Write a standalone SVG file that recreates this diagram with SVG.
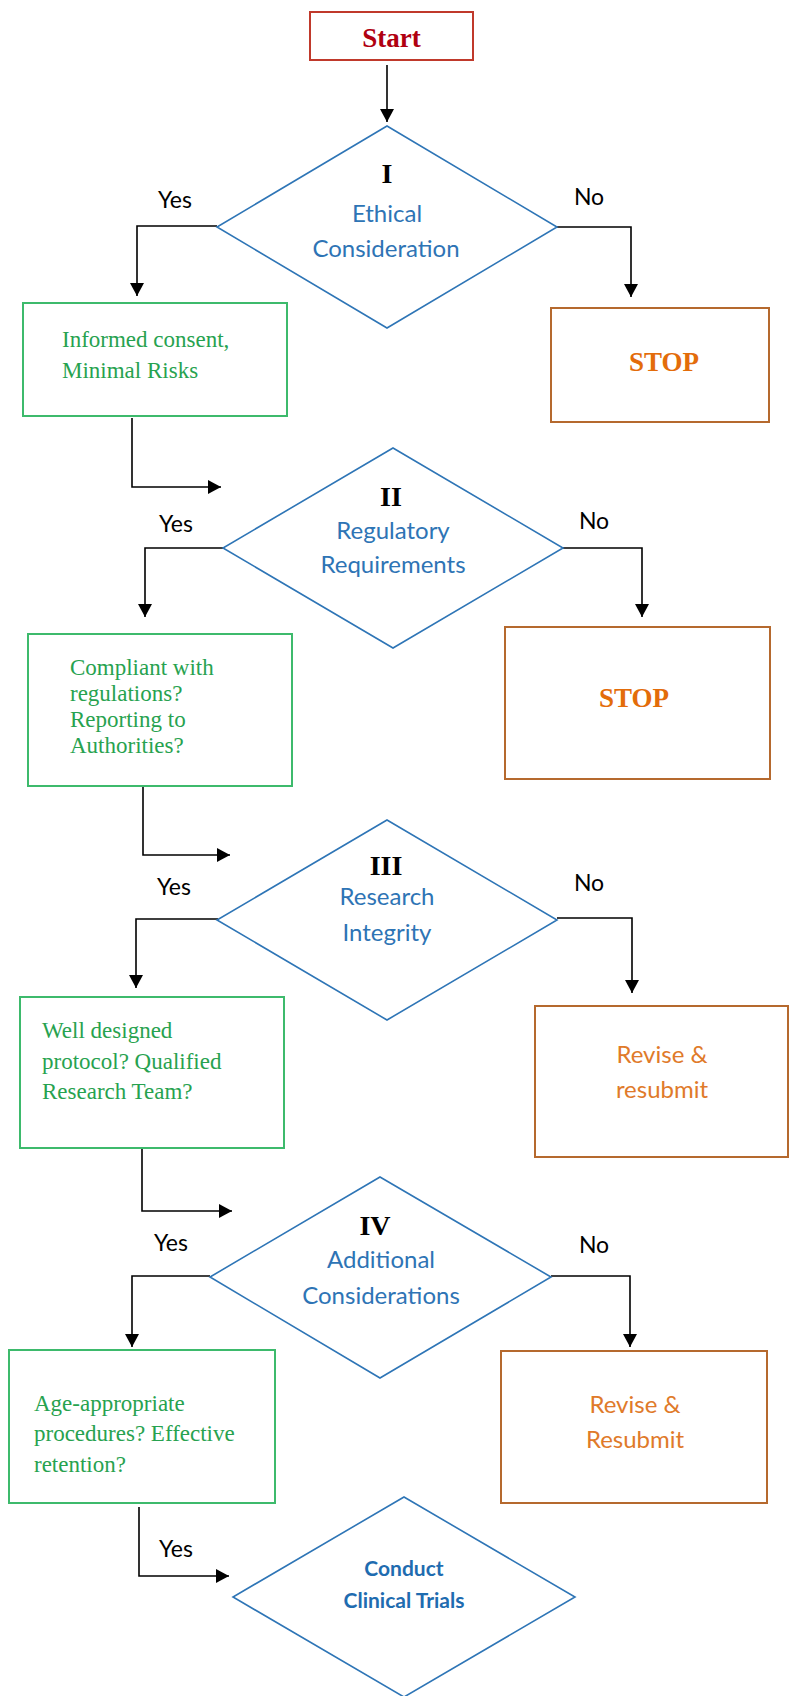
<svg xmlns="http://www.w3.org/2000/svg" width="790" height="1696" viewBox="0 0 790 1696">
<style>
.bg{fill:#ffffff}
.dia{fill:none;stroke:#2e75b6;stroke-width:1.6}
.gbox{fill:#ffffff;stroke:#3dba6c;stroke-width:2}
.obox{fill:#ffffff;stroke:#b5692e;stroke-width:2}
.sbox{fill:#ffffff;stroke:#c0392b;stroke-width:2}
.conn{fill:none;stroke:#000000;stroke-width:1.6}
.roman{font-family:"Liberation Serif",serif;font-weight:bold;font-size:28px;fill:#000000;text-anchor:middle}
.dtxt{font-family:Lato,"Liberation Sans",sans-serif;font-size:24px;fill:#2e74b5;text-anchor:middle}
.lbl{font-family:Lato,"Liberation Sans",sans-serif;font-size:23px;fill:#000000;text-anchor:middle}
.gtxt{font-family:"Liberation Serif",serif;font-size:23px;fill:#27a24f}
.stop{font-family:"Liberation Serif",serif;font-weight:bold;font-size:27px;fill:#e36c0a;text-anchor:middle}
.rtxt{font-family:Lato,"Liberation Sans",sans-serif;font-size:24px;fill:#e07a2a;text-anchor:middle}
.ctxt{font-family:Lato,"Liberation Sans",sans-serif;font-weight:bold;font-size:21px;fill:#1f6cb0;text-anchor:middle}
</style>
<defs>
<marker id="ah" markerUnits="userSpaceOnUse" markerWidth="14" markerHeight="14" refX="13" refY="7" orient="auto">
<path d="M0,0 L13,7 L0,14 Z" fill="#000000"/>
</marker>
</defs>
<rect class="bg" x="0" y="0" width="790" height="1696"/>

<g id="connectors">
<path class="conn" d="M387,65 V122" marker-end="url(#ah)"/>
<path class="conn" d="M217,226 H137 V296" marker-end="url(#ah)"/>
<path class="conn" d="M556,227 H631 V297" marker-end="url(#ah)"/>
<path class="conn" d="M132,418 V487 H221" marker-end="url(#ah)"/>
<path class="conn" d="M223,548 H145 V617" marker-end="url(#ah)"/>
<path class="conn" d="M563,548 H642 V617" marker-end="url(#ah)"/>
<path class="conn" d="M143,786 V855 H230" marker-end="url(#ah)"/>
<path class="conn" d="M218,919 H136 V988" marker-end="url(#ah)"/>
<path class="conn" d="M557,918 H632 V993" marker-end="url(#ah)"/>
<path class="conn" d="M142,1148 V1211 H232" marker-end="url(#ah)"/>
<path class="conn" d="M210,1276 H132 V1347" marker-end="url(#ah)"/>
<path class="conn" d="M551,1276 H630 V1347" marker-end="url(#ah)"/>
<path class="conn" d="M139,1507 V1576 H229" marker-end="url(#ah)"/>
<text class="lbl" x="175" y="208">Yes</text>
<text class="lbl" x="589" y="205">No</text>
<text class="lbl" x="176" y="532">Yes</text>
<text class="lbl" x="594" y="529">No</text>
<text class="lbl" x="174" y="895">Yes</text>
<text class="lbl" x="589" y="891">No</text>
<text class="lbl" x="171" y="1251">Yes</text>
<text class="lbl" x="594" y="1253">No</text>
<text class="lbl" x="176" y="1557">Yes</text>
</g>

<g id="start">
<rect class="sbox" x="310" y="12" width="163" height="48"/>
<text x="391.5" y="47" font-family="Liberation Serif, serif" font-weight="bold" font-size="27" fill="#b00010" text-anchor="middle">Start</text>
</g>

<g id="decision-1">
<polygon class="dia" points="387,126 557,227 387,328 217,227"/>
<text class="roman" x="387" y="183">I</text>
<text class="dtxt" x="387" y="222">Ethical</text>
<text class="dtxt" x="386" y="257">Consideration</text>
</g>

<g id="box-1-yes">
<rect class="gbox" x="23" y="303" width="264" height="113"/>
<text class="gtxt" x="62" y="347">Informed consent,</text>
<text class="gtxt" x="62" y="378">Minimal Risks</text>
</g>

<g id="box-1-no">
<rect class="obox" x="551" y="308" width="218" height="114"/>
<text class="stop" x="664" y="371">STOP</text>
</g>

<g id="decision-2">
<polygon class="dia" points="393,448 563,548 393,648 223,548"/>
<text class="roman" x="391" y="506">II</text>
<text class="dtxt" x="393" y="539">Regulatory</text>
<text class="dtxt" x="393" y="573">Requirements</text>
</g>

<g id="box-2-yes">
<rect class="gbox" x="28" y="634" width="264" height="152"/>
<text class="gtxt" x="70" y="675">Compliant with</text>
<text class="gtxt" x="70" y="701">regulations?</text>
<text class="gtxt" x="70" y="727">Reporting to</text>
<text class="gtxt" x="70" y="753">Authorities?</text>
</g>

<g id="box-2-no">
<rect class="obox" x="505" y="627" width="265" height="152"/>
<text class="stop" x="634" y="707">STOP</text>
</g>

<g id="decision-3">
<polygon class="dia" points="387,820 557,920 387,1020 217,920"/>
<text class="roman" x="386" y="875">III</text>
<text class="dtxt" x="387" y="905">Research</text>
<text class="dtxt" x="387" y="941">Integrity</text>
</g>

<g id="box-3-yes">
<rect class="gbox" x="20" y="997" width="264" height="151"/>
<text class="gtxt" x="42" y="1038">Well designed</text>
<text class="gtxt" x="42" y="1069">protocol? Qualified</text>
<text class="gtxt" x="42" y="1099">Research Team?</text>
</g>

<g id="box-3-no">
<rect class="obox" x="535" y="1006" width="253" height="151"/>
<text class="rtxt" x="662" y="1063">Revise &amp;</text>
<text class="rtxt" x="662" y="1098">resubmit</text>
</g>

<g id="decision-4">
<polygon class="dia" points="380,1177 551,1277 380,1378 210,1277"/>
<text class="roman" x="375" y="1235">IV</text>
<text class="dtxt" x="381" y="1268">Additional</text>
<text class="dtxt" x="381" y="1304">Considerations</text>
</g>

<g id="box-4-yes">
<rect class="gbox" x="9" y="1350" width="266" height="153"/>
<text class="gtxt" x="34" y="1411">Age-appropriate</text>
<text class="gtxt" x="34" y="1441">procedures? Effective</text>
<text class="gtxt" x="34" y="1472">retention?</text>
</g>

<g id="box-4-no">
<rect class="obox" x="501" y="1351" width="266" height="152"/>
<text class="rtxt" x="635" y="1413">Revise &amp;</text>
<text class="rtxt" x="635" y="1448">Resubmit</text>
</g>

<g id="final">
<polygon class="dia" points="404,1497 575,1597 404,1697 233,1597"/>
<text class="ctxt" x="404" y="1576">Conduct</text>
<text class="ctxt" x="404" y="1608">Clinical Trials</text>
</g>
</svg>
